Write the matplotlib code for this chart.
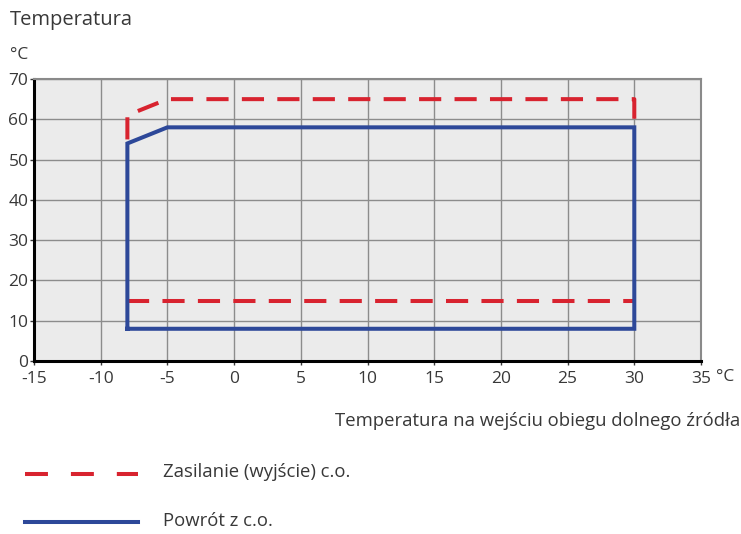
import matplotlib
matplotlib.use('Agg')
from matplotlib import pyplot as plt
from matplotlib.lines import Line2D

plt.rcParams['font.family'] = ['Open Sans', 'DejaVu Sans']
plt.rcParams['axes.unicode_minus'] = False

# data
supply_top_x = [-8, -8, -5, 30, 30]
supply_top_y = [55, 61, 65, 65, 59]
supply_bottom_x = [-8, 30]
supply_bottom_y = [15, 15]
return_x = [-8, -8, -5, 30, 30, -8]
return_y = [8, 54, 58, 58, 8, 8]
x_ticks = [-15, -10, -5, 0, 5, 10, 15, 20, 25, 30, 35]
y_ticks = [0, 10, 20, 30, 40, 50, 60, 70]
labels = ['Zasilanie (wyjście) c.o.', 'Powrót z c.o.']

red = '#d8232f'
blue = '#2d4899'
txt = '#383838'

fig = plt.figure(figsize=(7.41, 5.34), dpi=100)
ax = fig.add_axes([34 / 741, 1 - 361 / 534, 667 / 741, 282 / 534])
ax.set_facecolor('#ebebeb')

ax.plot(supply_top_x, supply_top_y, color=red, lw=2.9, dashes=(5.5, 3.3),
        solid_joinstyle='miter', zorder=3)
ax.plot(supply_bottom_x, supply_bottom_y, color=red, lw=2.9, dashes=(5.5, 3.3),
        zorder=3)
ax.plot(return_x, return_y, color=blue, lw=2.9,
        solid_joinstyle='miter', zorder=4)

ax.set_xlim(-15, 35)
ax.set_ylim(0, 70)
ax.set_xticks(x_ticks)
ax.set_yticks(y_ticks)
ax.grid(True, color='#8c8c8c', lw=1.0, zorder=1)
ax.set_axisbelow(True)
for s in ['top', 'right']:
    ax.spines[s].set_color('#8a8a8a')
    ax.spines[s].set_linewidth(1.5)
for s in ['left', 'bottom']:
    ax.spines[s].set_color('black')
    ax.spines[s].set_linewidth(2.2)
ax.tick_params(axis='both', labelsize=12.5, colors=txt, length=3, width=1, pad=1)
ax.tick_params(axis='x', direction='out', pad=4)

fig.text(10 / 741, 1 - 20 / 534, 'Temperatura', fontsize=14.5, color=txt, va='center')
fig.text(10 / 741, 1 - 55 / 534, '°C', fontsize=12.5, color=txt, va='center')
fig.text(716 / 741, 1 - 377 / 534, '°C', fontsize=12.5, color=txt, va='center')
fig.text(740 / 741, 1 - 421 / 534, 'Temperatura na wejściu obiegu dolnego źródła',
         fontsize=13.3, color=txt, ha='right', va='center')

fig.add_artist(Line2D([25 / 741, 138 / 741], [1 - 474 / 534] * 2, color=red, lw=2.9,
                      dashes=(5.7, 5.7)))
fig.add_artist(Line2D([25 / 741, 138 / 741], [1 - 522 / 534] * 2, color=blue, lw=2.9))
fig.text(163 / 741, 1 - 472 / 534, labels[0], fontsize=13.3, color=txt, va='center')
fig.text(163 / 741, 1 - 521 / 534, labels[1], fontsize=13.3, color=txt, va='center')

fig.savefig('out.png', dpi=100)
plt.close()
